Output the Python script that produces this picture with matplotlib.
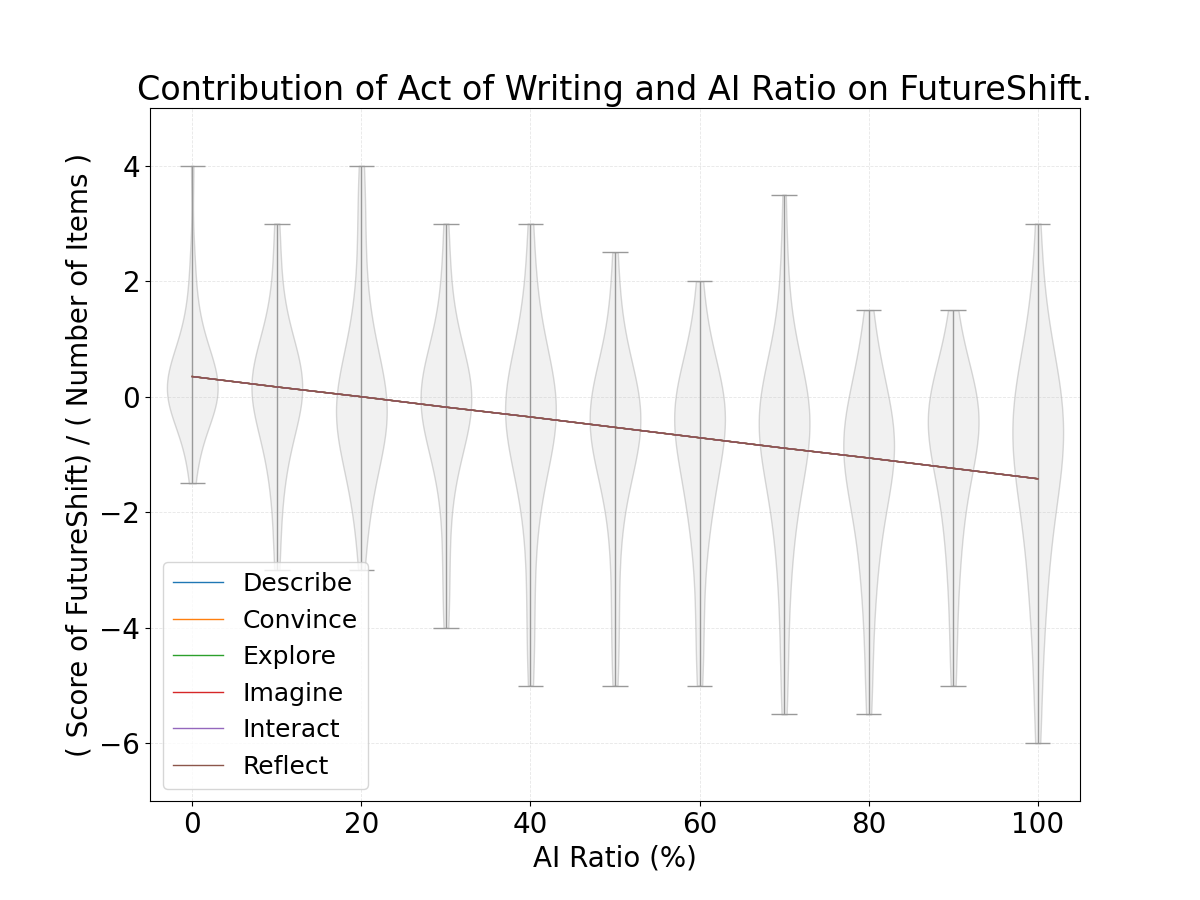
import numpy as np
import matplotlib.pyplot as plt

# AI ratio groups (%)
ai_ratio = [0, 10, 20, 30, 40, 50, 60, 70, 80, 90, 100]

# score values (step 0.5) and how many participants got each, per group
score_levels = np.arange(-6, 4.5, 0.5)
counts = [
    # -6 ... 4 in steps of 0.5
    [0,0,0,0,0,0,0,0,0,1,2,5,12,9,4,2,1,1,0,0,1],   # 0
    [0,0,0,0,0,0,1,1,1,2,3,5,9,8,4,2,1,1,1,0,0],    # 10
    [0,0,0,0,0,0,1,1,2,3,5,8,8,5,3,2,1,1,1,1,1],    # 20
    [0,0,0,0,1,1,1,1,1,2,4,7,10,7,3,2,1,1,1,0,0],   # 30
    [0,0,1,1,1,1,1,1,2,3,5,8,9,5,3,2,1,1,1,0,0],    # 40
    [0,0,1,1,1,1,1,1,2,3,6,9,8,4,2,1,1,1,0,0,0],    # 50
    [0,0,1,1,1,1,1,2,3,4,5,8,8,4,2,1,1,0,0,0,0],    # 60
    [0,1,1,1,1,1,2,2,3,4,6,9,8,4,2,1,1,1,0,1,0],    # 70
    [0,1,1,1,1,2,2,3,4,6,8,8,5,3,2,1,0,0,0,0,0],    # 80
    [0,0,1,1,1,1,2,2,3,4,6,9,8,4,2,1,0,0,0,0,0],    # 90
    [1,1,1,1,2,2,3,3,4,6,7,8,7,5,3,2,1,1,1,0,0],    # 100
]

# fitted line (same for every act of writing)
acts = ["Describe", "Convince", "Explore", "Imagine", "Interact", "Reflect"]
act_colors = ["C0", "C1", "C2", "C3", "C4", "C5"]
fit_line = [0.35, 0.17, 0.0, -0.18, -0.35, -0.53, -0.71, -0.89, -1.06, -1.24, -1.42]

fig, ax = plt.subplots(figsize=(12, 9), dpi=100)

data = [np.repeat(score_levels, c) for c in counts]
vp = ax.violinplot(data, positions=ai_ratio, widths=6)
for b in vp["bodies"]:
    b.set_facecolor("#dcdcdc")
    b.set_edgecolor("#a0a0a0")
    b.set_alpha(0.4)
    b.set_linewidth(1)
for k in ["cbars", "cmins", "cmaxes"]:
    vp[k].set_color("#999999")
    vp[k].set_linewidth(1)

for a, c in zip(acts, act_colors):
    ax.plot(ai_ratio, fit_line, label=a, color=c, linewidth=1)

ax.set_ylim(-7, 5)
ax.set_xlim(-5, 105)
ax.grid(True, linestyle="--", alpha=0.3, linewidth=0.6)
ax.set_title("Contribution of Act of Writing and AI Ratio on FutureShift.", fontsize=24)
ax.set_xlabel("AI Ratio (%)", fontsize=20)
ax.set_ylabel("( Score of FutureShift) / ( Number of Items )", fontsize=20)
ax.tick_params(labelsize=20)
ax.legend(loc="lower left", fontsize=18)

plt.savefig("out.png")
